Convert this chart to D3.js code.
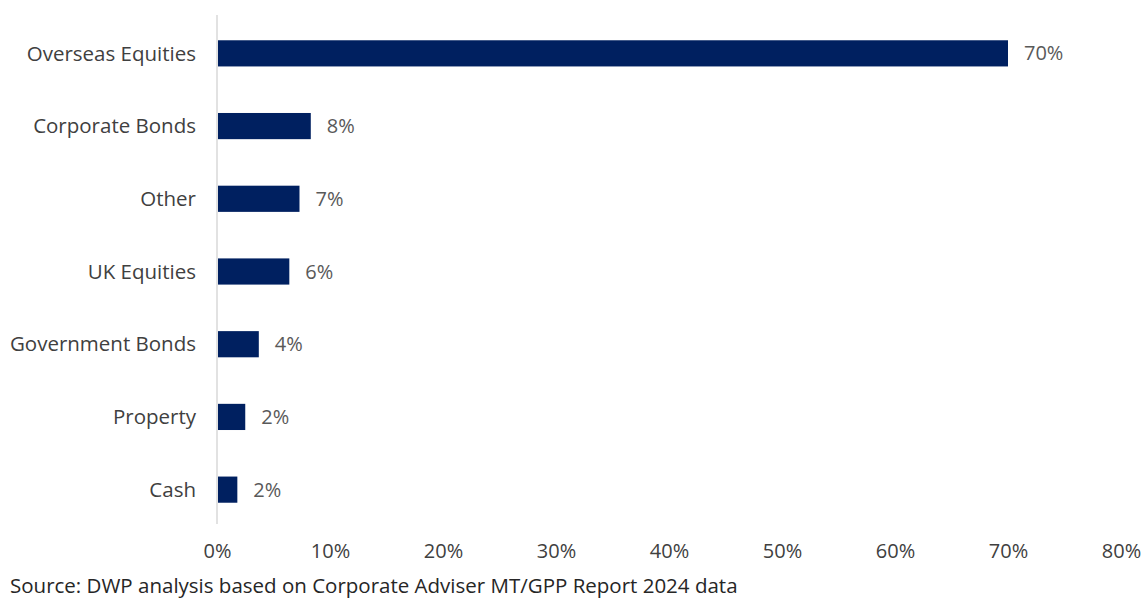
<!DOCTYPE html>
<html>
<head>
<meta charset="utf-8">
<script src="https://cdn.jsdelivr.net/npm/d3@7"></script>
<style>
  body { margin: 0; background: #fff; }
  svg { display: block; font-family: "Open Sans", "Noto Sans", sans-serif; }
</style>
</head>
<body>
<svg id="chartSVG" width="1144" height="599"></svg>
<script>
// asset classes, top to bottom
var categories = ["Overseas Equities", "Corporate Bonds", "Other", "UK Equities",
                  "Government Bonds", "Property", "Cash"];
// share of allocation (%)
var shares = [70.0, 8.3, 7.3, 6.4, 3.7, 2.5, 1.8];
// labels printed beside the bars
var shareLabels = ["70%", "8%", "7%", "6%", "4%", "2%", "2%"];
var xTicks = [0, 10, 20, 30, 40, 50, 60, 70, 80];
var sourceNote = "Source: DWP analysis based on Corporate Adviser MT/GPP Report 2024 data";

var plotLeft = 217, plotRight = 1121, plotTop = 17, plotBottom = 526;

var svg = d3.select("#chartSVG");

var xScale = d3.scaleLinear()
            .domain([0, 80])
            .range([plotLeft, plotRight]);

var yScale = d3.scaleBand()
            .domain(categories)
            .range([plotTop, plotBottom])
            .paddingInner(0.64)
            .paddingOuter(0.32);

// vertical axis line
svg.append("line")
    .attr("x1", xScale(0)).attr("x2", xScale(0))
    .attr("y1", plotTop - 2).attr("y2", plotBottom - 2)
    .attr("stroke", "#d9d9d9").attr("stroke-width", 1.5);

svg.selectAll(".bar")
    .data(shares).enter()
    .append("rect")
    .attr("class", "bar")
    .attr("x", xScale(0) + 1)
    .attr("y", function(d, i){ return yScale(categories[i]); })
    .attr("width", function(d){ return xScale(d) - xScale(0) - 1; })
    .attr("height", yScale.bandwidth())
    .attr("fill", "#002060");

svg.selectAll(".valueLabel")
    .data(shares).enter()
    .append("text")
    .attr("class", "valueLabel")
    .attr("x", function(d){ return xScale(d) + 16; })
    .attr("y", function(d, i){ return yScale(categories[i]) + yScale.bandwidth() / 2; })
    .attr("dy", "0.35em")
    .attr("font-size", 20)
    .attr("fill", "#595959")
    .text(function(d, i){ return shareLabels[i]; });

// category labels
svg.selectAll(".catLabel")
    .data(categories).enter()
    .append("text")
    .attr("class", "catLabel")
    .attr("x", 196)
    .attr("y", function(d){ return yScale(d) + yScale.bandwidth() / 2; })
    .attr("dy", "0.35em")
    .attr("text-anchor", "end")
    .attr("font-size", 20.5)
    .attr("fill", "#404040")
    .text(function(d){ return d; });

// x axis tick labels, no line
var xAxis = svg.append("g")
    .attr("class", "xScale")
    .attr("transform", "translate(0," + 544 + ")")
    .call(d3.axisBottom(xScale).tickValues(xTicks)
          .tickFormat(function(d){ return d + "%"; })
          .tickSize(0).tickPadding(0));
xAxis.select(".domain").remove();
xAxis.selectAll("text")
    .attr("font-size", 20)
    .attr("font-family", "\"Open Sans\", sans-serif")
    .attr("fill", "#404040");

svg.append("text")
    .attr("x", 10).attr("y", 593)
    .attr("font-size", 20.5)
    .attr("fill", "#262626")
    .text(sourceNote);
</script>
</body>
</html>
